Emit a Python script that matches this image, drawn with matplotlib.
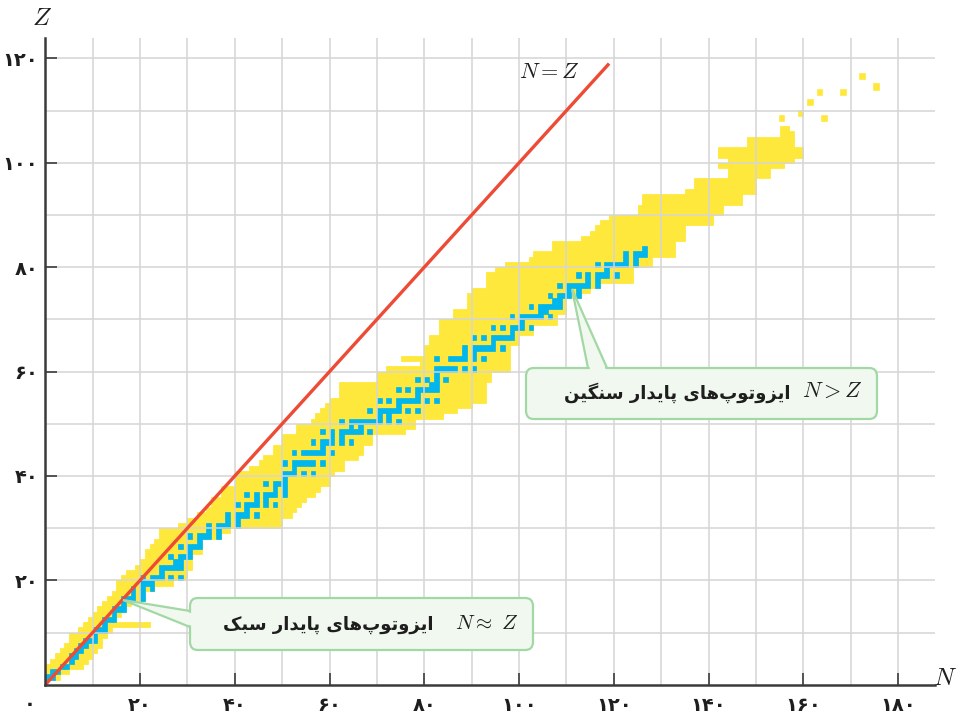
import matplotlib
matplotlib.use("Agg")
import numpy as np
import matplotlib.pyplot as plt
import matplotlib.patches as patches

plt.rcParams['mathtext.fontset'] = 'cm'

# ---- values ----
# yellow band: first and last N of the filled cells in each row Z
band_z = list(range(1, 107))
band_n_lo = [0, 0, 0, 1, 2, 3, 4, 5, 5, 7,
             8, 9, 10, 11, 12, 13, 14, 15, 15, 16,
             17, 19, 20, 21, 21, 22, 23, 24, 24, 28,
             30, 32, 34, 35, 35, 37, 37, 40, 40, 40,
             43, 45, 46, 48, 48, 50, 50, 53, 53, 56,
             57, 58, 59, 60, 62, 62, 62, 70, 70, 72,
             79, 75, 80, 80, 81, 81, 83, 83, 83, 86,
             86, 89, 89, 89, 90, 93, 93, 93, 95, 97,
             102, 103, 107, 107, 113, 115, 116, 117, 119, 125,
             125, 126, 126, 135, 137, 137, 144, 144, 142, 144,
             142, 142, 148, 148, 155, 155]
band_n_hi = [2, 4, 7, 8, 9, 10, 11, 11, 12, 13,
             21, 14, 15, 16, 17, 20, 20, 22, 26, 29,
             29, 30, 30, 30, 32, 32, 32, 36, 38, 49,
             49, 51, 52, 53, 54, 56, 57, 59, 59, 60,
             62, 62, 65, 66, 66, 68, 68, 75, 77, 77,
             83, 86, 89, 92, 92, 92, 92, 93, 93, 97,
             97, 97, 97, 97, 99, 99, 102, 102, 107, 107,
             109, 109, 109, 112, 114, 116, 123, 123, 123, 127,
             127, 132, 132, 132, 134, 134, 134, 140, 140, 142,
             142, 146, 146, 149, 149, 149, 152, 152, 155, 157,
             159, 159, 157, 157, 157, 156]

# single yellow cells above the band
loose_n = [155, 159, 161, 163, 164, 168, 172, 175]
loose_z = [108, 109, 111, 113, 108, 113, 116, 114]

# stable isotopes (blue): neutron numbers, one list per Z = 1..83
stable_n = [
    [0, 1], [1, 2], [3, 4], [5], [5, 6], [6, 7], [7, 8], [8, 9, 10], [10], [10, 11, 12],
    [12], [12, 13, 14], [14], [14, 15, 16], [16], [16, 17, 18, 20], [18, 20], [18, 20, 22],
    [20, 21, 22], [20, 22, 23, 24, 26, 28],
    [24], [24, 25, 26, 27, 28], [27, 28], [26, 28, 29, 30], [30], [28, 30, 31, 32], [32],
    [30, 32, 33, 34, 36], [34, 36], [34, 36, 37, 38, 40],
    [38, 40], [38, 40, 41, 42, 44], [42], [40, 42, 43, 44, 46, 48], [44, 46],
    [42, 44, 46, 47, 48, 50], [48, 50], [46, 48, 49, 50], [50], [50, 51, 52, 54, 56],
    [52], [50, 52, 53, 54, 55, 56, 58], [], [52, 54, 55, 56, 57, 58, 60], [58],
    [56, 58, 59, 60, 62, 64], [60, 62], [58, 60, 62, 63, 64, 65, 66, 68], [64, 66],
    [62, 64, 65, 66, 67, 68, 69, 70, 72, 74],
    [70, 72], [68, 70, 71, 72, 73, 74, 76, 78], [74], [70, 72, 74, 75, 76, 77, 78, 80, 82],
    [78], [74, 76, 78, 79, 80, 81, 82], [81, 82], [78, 80, 82, 84], [82],
    [82, 83, 84, 85, 86, 88, 90],
    [], [82, 85, 86, 87, 88, 90, 92], [88, 90], [88, 90, 91, 92, 93, 94, 96], [94],
    [90, 92, 94, 95, 96, 97, 98], [98], [94, 96, 98, 99, 100, 102], [100],
    [98, 100, 101, 102, 103, 104, 106],
    [104, 105], [102, 104, 105, 106, 107, 108], [107, 108], [106, 108, 109, 110, 112],
    [110, 112], [108, 110, 111, 112, 113, 114, 116], [114, 116],
    [112, 114, 116, 117, 118, 120], [118], [116, 118, 119, 120, 121, 122, 124],
    [122, 124], [122, 124, 125, 126], [126],
]

line_end = 119
x_ticks = [20, 40, 60, 80, 100, 120, 140, 160, 180]
y_ticks = [20, 40, 60, 80, 100, 120]

YELLOW = '#FFE83C'
BLUE = '#00B6EE'
RED = '#EE4B36'
GRID = '#D5D5D5'
AXIS = '#3B3B3B'
BOX_FACE = '#F1F8EF'
BOX_EDGE = '#A2D8A4'
TEXT = '#1E1E1E'
W, H = 956, 717

# presentation forms: isolated, final, initial, medial
FORMS = {
    '\u0627': '\uFE8D\uFE8E', '\u062F': '\uFEA9\uFEAA', '\u0631': '\uFEAD\uFEAE',
    '\u0632': '\uFEAF\uFEB0', '\u0648': '\uFEED\uFEEE',
    '\u0628': '\uFE8F\uFE90\uFE91\uFE92', '\u067E': '\uFB56\uFB57\uFB58\uFB59',
    '\u062A': '\uFE95\uFE96\uFE97\uFE98', '\u0633': '\uFEB1\uFEB2\uFEB3\uFEB4',
    '\u06A9': '\uFB8E\uFB8F\uFB90\uFB91', '\u0643': '\uFB8E\uFB8F\uFB90\uFB91',
    '\u06AF': '\uFB92\uFB93\uFB94\uFB95', '\u0646': '\uFEE5\uFEE6\uFEE7\uFEE8',
    '\u0647': '\uFEE9\uFEEA\uFEEB\uFEEC',
    '\u06CC': '\uFBFC\uFBFD\uFBFE\uFBFF', '\u064A': '\uFBFC\uFBFD\uFBFE\uFBFF',
}


def shape_fa(text):
    # join the letters by hand and lay them out right to left
    out = []
    for i, ch in enumerate(text):
        if ch not in FORMS:
            if ch != '\u200c':
                out.append(ch)
            continue
        prev = text[i - 1] if i > 0 else ''
        nxt = text[i + 1] if i + 1 < len(text) else ''
        join_prev = len(FORMS.get(prev, '')) == 4
        join_next = len(FORMS[ch]) == 4 and nxt in FORMS
        if join_prev and join_next:
            idx = 3
        elif join_prev:
            idx = 1
        elif join_next:
            idx = 2
        else:
            idx = 0
        out.append(FORMS[ch][idx])
    return ''.join(reversed(out))


def fa_num(v):
    return str(v).translate(str.maketrans('0123456789', '۰۱۲۳۴۵۶۷۸۹'))


fig = plt.figure(figsize=(W / 100, H / 100), dpi=100)
ax = fig.add_axes([0.0474, 0.045, 0.9307, 0.902])
ax.set_xlim(0, 187.8)
ax.set_ylim(0, 123.9)


def px(x, y):
    # picture pixel (origin top-left) -> data coords
    return ax.transData.inverted().transform((x, H - y))


# band, loose cells, stable cells
widths = [hi - lo + 1 for lo, hi in zip(band_n_lo, band_n_hi)]
ax.barh(band_z, widths, left=band_n_lo, height=1, align='edge',
        color=YELLOW, edgecolor=YELLOW, linewidth=0.6, zorder=1)
ax.barh(loose_z, 1, left=loose_n, height=1, align='edge',
        color=YELLOW, edgecolor=YELLOW, linewidth=1.2, zorder=1)
cell_z = [z for z, ns in enumerate(stable_n, start=1) for n in ns]
cell_n = [n for ns in stable_n for n in ns]
ax.barh(cell_z, 1, left=cell_n, height=1, align='edge',
        color=BLUE, edgecolor=BLUE, linewidth=0.5, zorder=2)

# N = Z line
ax.plot([0, line_end], [0, line_end], color=RED, lw=2.4, zorder=4, solid_capstyle='butt')

# axes, grid, ticks
for s in ['top', 'right']:
    ax.spines[s].set_visible(False)
for s in ['left', 'bottom']:
    ax.spines[s].set_color(AXIS)
    ax.spines[s].set_linewidth(1.8)
    ax.spines[s].set_zorder(5)
ax.set_axisbelow(False)
ax.set_xticks(x_ticks)
ax.set_yticks(y_ticks)
ax.set_xticks([t - 10 for t in x_ticks], minor=True)
ax.set_yticks([t - 10 for t in y_ticks], minor=True)
ax.grid(True, which='both', color=GRID, lw=1.1)
ax.tick_params(which='major', direction='in', length=8.5, width=1.2, color=AXIS)
ax.tick_params(which='minor', length=0)
ax.set_xticklabels([fa_num(v) for v in x_ticks], fontsize=14, fontweight='bold', color=TEXT)
ax.set_yticklabels([fa_num(v) for v in y_ticks], fontsize=14, fontweight='bold', color=TEXT)
ax.tick_params(axis='x', pad=8)
ax.tick_params(axis='y', pad=5)
ax.text(*px(30, 705), fa_num(0), ha='center', va='center', fontsize=14,
        fontweight='bold', color=TEXT, clip_on=False)

ax.text(*px(42, 18), '$Z$', ha='center', va='center', fontsize=18, color=TEXT, clip_on=False)
ax.text(*px(945, 678), '$N$', ha='center', va='center', fontsize=18, color=TEXT, clip_on=False)
ax.text(*px(549, 72), '$N = Z$', ha='center', va='center', fontsize=16, color=TEXT, zorder=6)


def callout(box, b1, b2, tip):
    # rounded box with a wedge pointer, drawn as one outline
    x0, y0, x1, y1 = box
    T = np.array(tip, float)
    B1 = np.array(b1, float)
    B2 = np.array(b2, float)

    def along(B, d):
        v = B - T
        return B + v / np.linalg.norm(v) * d

    n1 = (B2 - B1) / np.linalg.norm(B2 - B1)
    tri = [px(*T), px(*along(B1, 8)), px(*along(B2, 8))]
    ax.add_patch(patches.Polygon(tri, closed=True, fc=BOX_FACE, ec=BOX_EDGE, lw=1.6, zorder=6))
    lo = px(x0, y1)
    hi = px(x1, y0)
    ax.add_patch(patches.FancyBboxPatch(lo, hi[0] - lo[0], hi[1] - lo[1],
                                        boxstyle='round,pad=0,rounding_size=1.6',
                                        fc=BOX_FACE, ec=BOX_EDGE, lw=1.6, zorder=7))
    cover = [along(B1, -5) + n1 * 1.8, along(B2, -5) - n1 * 1.8,
             along(B2, 5) - n1 * 1.8, along(B1, 5) + n1 * 1.8]
    ax.add_patch(patches.Polygon([px(*p) for p in cover], closed=True,
                                 fc=BOX_FACE, ec='none', zorder=8))


callout((526, 368, 877, 419), (588, 368), (607, 368), (572, 289))
callout((190, 598, 533, 650), (190, 611), (190, 627), (123, 600))

heavy = shape_fa('ایزوتوپ\u200cهای پایدار سنگین')
light = shape_fa('ایزوتوپ\u200cهای پایدار سبک')
ax.text(*px(790, 393), heavy, ha='right', va='center', fontsize=13, fontweight='bold',
        family='DejaVu Sans', color=TEXT, zorder=9)
ax.text(*px(802, 391), r'$N > Z$', ha='left', va='center', fontsize=16, color=TEXT, zorder=9)
ax.text(*px(433, 625), light, ha='right', va='center', fontsize=13, fontweight='bold',
        family='DejaVu Sans', color=TEXT, zorder=9)
ax.text(*px(455, 623), r'$N \approx\ Z$', ha='left', va='center', fontsize=15, color=TEXT, zorder=9)

fig.savefig('out.png', dpi=100)
